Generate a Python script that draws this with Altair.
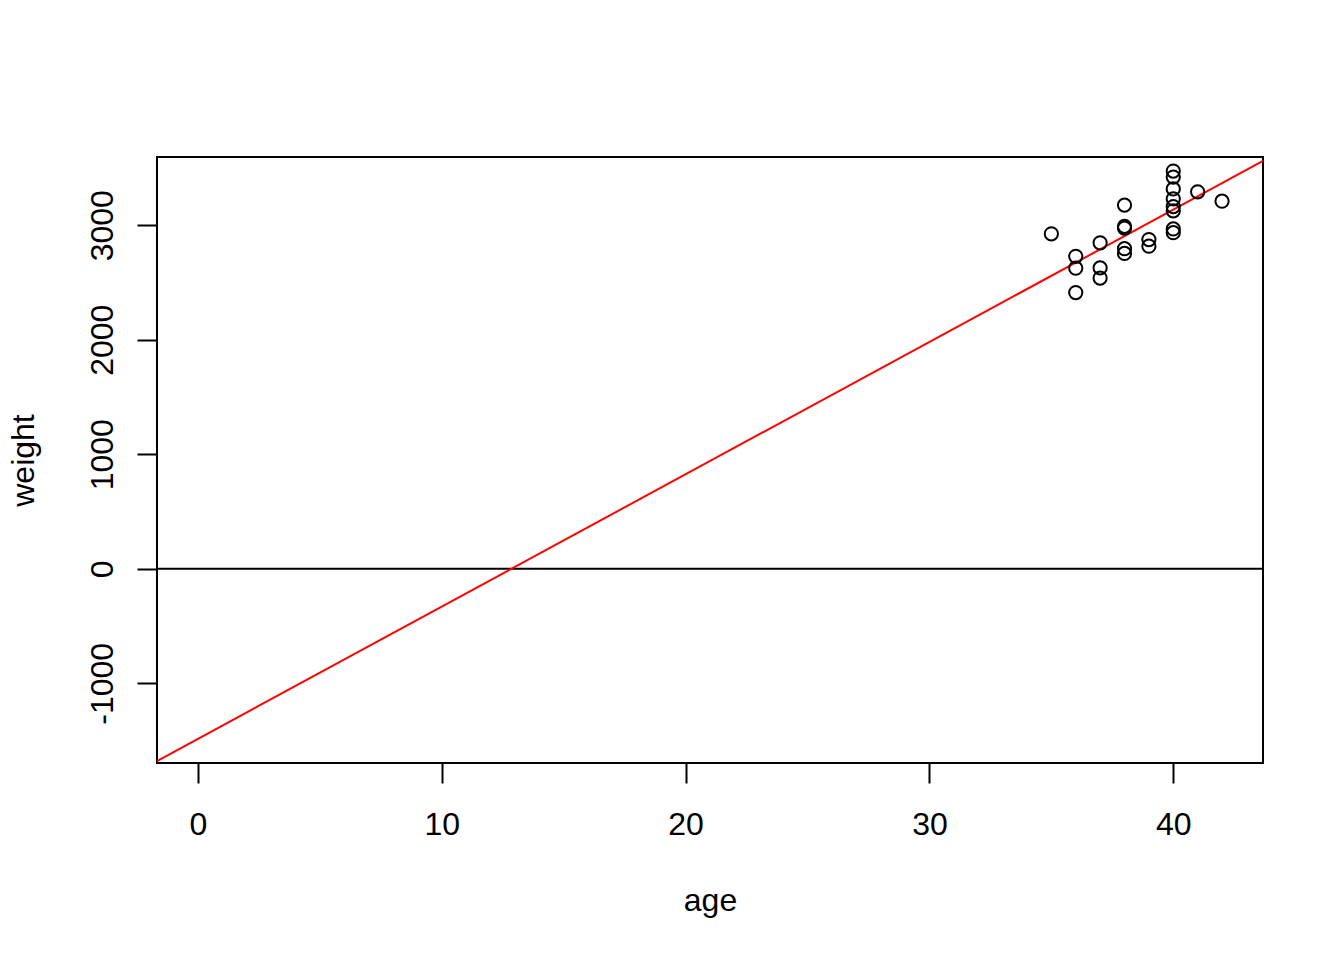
import altair as alt
import pandas as pd

age = [40, 38, 40, 35, 36, 37, 41, 40, 37, 38, 40, 38,
       40, 36, 40, 38, 42, 39, 40, 37, 36, 38, 39, 40]
weight = [2968, 2795, 3163, 2925, 2625, 2847, 3292, 3473, 2628, 3176, 3421, 2975,
          3317, 2729, 2935, 2754, 3210, 2817, 3126, 2539, 2412, 2991, 2875, 3231]
x_ticks = [0, 10, 20, 30, 40]
y_ticks = [-1000, 0, 1000, 2000, 3000]
x_domain = [-1.68, 43.68]
y_domain = [-1696, 3596]

df = pd.DataFrame({"age": age, "weight": weight})

FONT = "Liberation Sans"
W, H = 1106, 606

xs = alt.Scale(domain=x_domain, nice=False, zero=False)
ys = alt.Scale(domain=y_domain, nice=False, zero=False)

x_axis = alt.Axis(values=x_ticks, domain=False, grid=False, tickSize=20, tickWidth=2,
                  tickColor="black", labelFont=FONT, labelFontSize=32, labelColor="black",
                  labelExpr="datum.value + ''",
                  labelBaseline="top", labelPadding=26, title="age", titleFont=FONT,
                  titleFontSize=32, titleFontWeight="normal", titleColor="black",
                  titleBaseline="alphabetic", titleX=W / 2, titleY=147, titleAlign="center")
y_axis = alt.Axis(values=y_ticks, domain=False, grid=False, tickSize=20, tickWidth=2,
                  tickColor="black", labelFont=FONT, labelFontSize=32, labelColor="black",
                  labelExpr="datum.value + ''",
                  labelAngle=270, labelAlign="center", labelBaseline="alphabetic",
                  labelPadding=25, title="weight", titleFont=FONT, titleFontSize=32,
                  titleFontWeight="normal", titleColor="black", titleAngle=270,
                  titleBaseline="alphabetic", titleAlign="center", titleX=-124, titleY=H / 2)

base = alt.Chart(df)

points = base.mark_point(shape="circle", filled=False, color="black", strokeWidth=2,
                         size=175, opacity=1).encode(
    x=alt.X("age:Q", scale=xs, axis=x_axis),
    y=alt.Y("weight:Q", scale=ys, axis=y_axis),
)

reg = base.transform_regression("age", "weight", extent=x_domain).mark_line(
    color="red", strokeWidth=2, clip=True).encode(
    x=alt.X("age:Q", scale=xs),
    y=alt.Y("weight:Q", scale=ys),
)

zero = alt.Chart(pd.DataFrame({"z": [0]})).mark_rule(color="black", strokeWidth=2).encode(
    y=alt.Y("z:Q", scale=ys),
)

chart = alt.layer(zero, reg, points).properties(
    width=W, height=H,
    autosize=alt.AutoSizeParams(type="none"),
    padding={"left": 149, "top": 149, "right": 72, "bottom": 180},
    background="white",
).configure_view(stroke="black", strokeWidth=2)

chart.save("out.html", embed_options={"renderer": "svg", "actions": False})
